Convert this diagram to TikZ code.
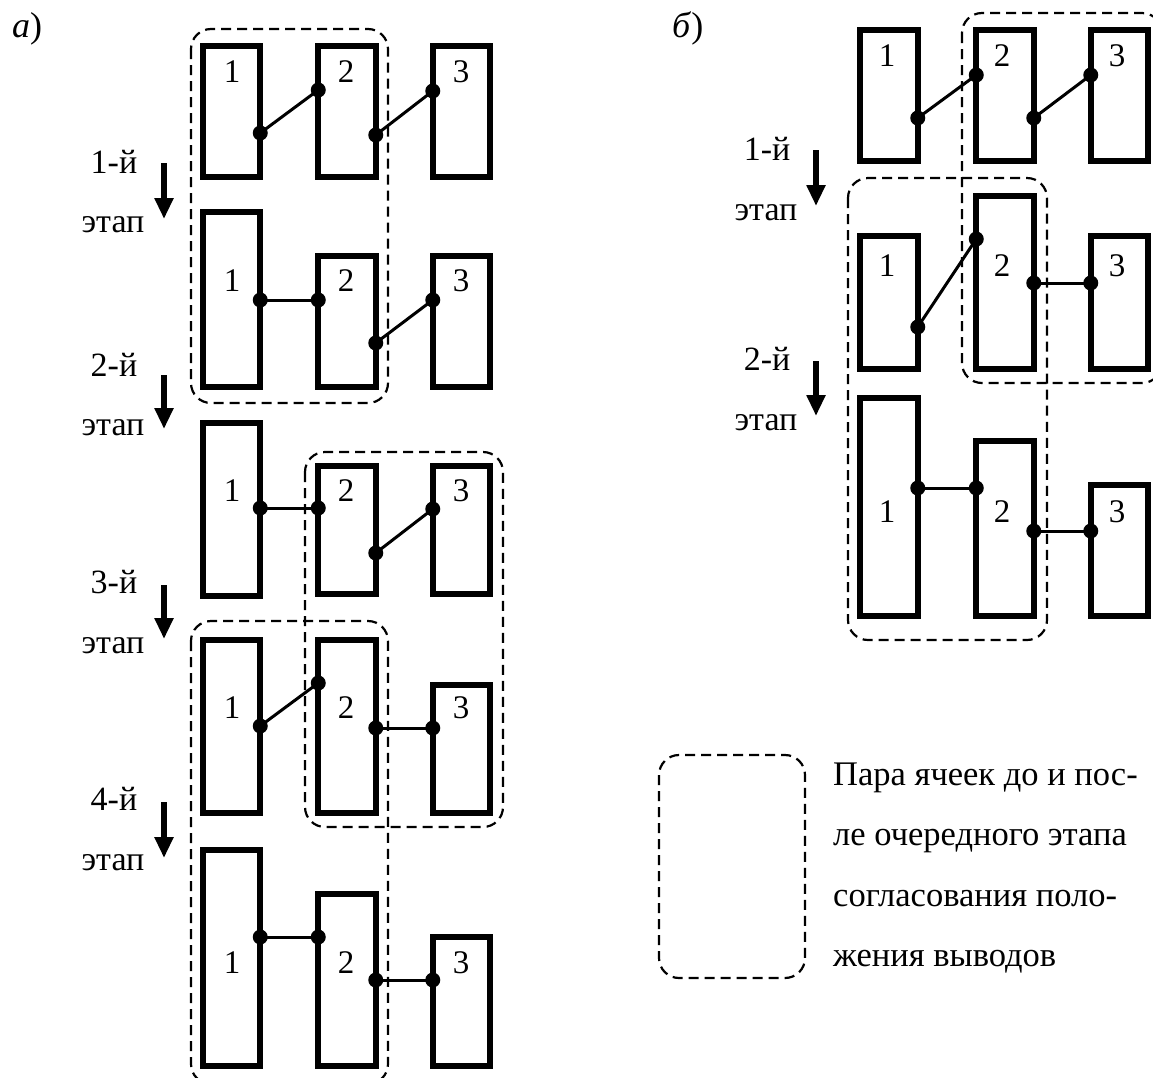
\documentclass[tikz,border=0pt]{standalone}
\usepackage{fontspec}
\setmainfont{Liberation Serif}
\usetikzlibrary{arrows.meta}
\tikzset{
  cell/.style={draw, line width=6pt, rectangle, minimum width=57.5pt, inner sep=0pt, outer sep=0pt},
  num/.style={font=\fontsize{33}{33}\selectfont, inner sep=0pt},
  wire/.style={line width=3pt},
  grp/.style={draw, line width=2.2pt, dash pattern=on 10pt off 6pt, rounded corners=20pt},
  stagetxt/.style={font=\fontsize{34}{34}\selectfont, inner sep=0pt, anchor=base},
  stagearrow/.style={line width=5.5pt, -{Triangle[width=18pt,length=21pt]}},
  legtxt/.style={font=\fontsize{34.5}{34.5}\selectfont, inner sep=0pt, anchor=base west},
  tag/.style={font=\fontsize{36}{36}\selectfont, inner sep=0pt, anchor=base west},
}
\begin{document}
\begin{tikzpicture}[x=1pt,y=-1pt]
\useasboundingbox (0,0) rectangle (1153,1077);
\clip (0,0) rectangle (1153,1077);
% ---------- panel a ----------
\node[tag] (taga) at (12,37) {\textit{а})};
% row 1
\node[cell, minimum height=131] (a11) at (231.5,111.5) {};
\node[cell, minimum height=131] (a12) at (347,111.5) {};
\node[cell, minimum height=131] (a13) at (461.5,111.5) {};
\node[num] (a11n) at (232,72) {1};\node[num] (a12n) at (346,72) {2};\node[num] (a13n) at (461,72) {3};
% row 2
\node[cell, minimum height=175] (a21) at (231.5,299.5) {};
\node[cell, minimum height=131] (a22) at (347,321.5) {};
\node[cell, minimum height=131] (a23) at (461.5,321.5) {};
\node[num] (a21n) at (232,281) {1};\node[num] (a22n) at (346,281) {2};\node[num] (a23n) at (461,281) {3};
% row 3
\node[cell, minimum height=173] (a31) at (231.5,509.5) {};
\node[cell, minimum height=128] (a32) at (347,530) {};
\node[cell, minimum height=128] (a33) at (461.5,530) {};
\node[num] (a31n) at (232,491) {1};\node[num] (a32n) at (346,491) {2};\node[num] (a33n) at (461,491) {3};
% row 4
\node[cell, minimum height=173] (a41) at (231.5,726.5) {};
\node[cell, minimum height=173] (a42) at (347,726.5) {};
\node[cell, minimum height=128] (a43) at (461.5,749) {};
\node[num] (a41n) at (232,708) {1};\node[num] (a42n) at (346,708) {2};\node[num] (a43n) at (461,708) {3};
% row 5
\node[cell, minimum height=216] (a51) at (231.5,958) {};
\node[cell, minimum height=172] (a52) at (347,980) {};
\node[cell, minimum height=129] (a53) at (461.5,1001.5) {};
\node[num] (a51n) at (232,963) {1};\node[num] (a52n) at (346,963) {2};\node[num] (a53n) at (461,963) {3};
% pins a
\coordinate (a1p1) at (a11.east |- 0,133);  \coordinate (a1p2) at (a12.west |- 0,90);
\coordinate (a1p3) at (a12.east |- 0,135);  \coordinate (a1p4) at (a13.west |- 0,91);
\coordinate (a2p1) at (a21.east |- 0,300);  \coordinate (a2p2) at (a22.west |- 0,300);
\coordinate (a2p3) at (a22.east |- 0,343);  \coordinate (a2p4) at (a23.west |- 0,300);
\coordinate (a3p1) at (a31.east |- 0,508);  \coordinate (a3p2) at (a32.west |- 0,508);
\coordinate (a3p3) at (a32.east |- 0,553);  \coordinate (a3p4) at (a33.west |- 0,509);
\coordinate (a4p1) at (a41.east |- 0,726);  \coordinate (a4p2) at (a42.west |- 0,683);
\coordinate (a4p3) at (a42.east |- 0,728);  \coordinate (a4p4) at (a43.west |- 0,728);
\coordinate (a5p1) at (a51.east |- 0,937);  \coordinate (a5p2) at (a52.west |- 0,937);
\coordinate (a5p3) at (a52.east |- 0,980);  \coordinate (a5p4) at (a53.west |- 0,980);
\foreach \r in {1,...,5}{
  \draw[wire] (a\r p1) -- (a\r p2);
  \draw[wire] (a\r p3) -- (a\r p4);
  \foreach \k in {1,...,4}{\fill (a\r p\k) circle (7.5pt);}
}
% groups a
\draw[grp] (191,29) rectangle (388,403);
\draw[grp] (305,452) rectangle (503,827);
\draw[grp] (191,621) rectangle (388,1084);
% stage labels a
\node[stagetxt] (sa1) at (114,173) {1-й};
\node[stagetxt] (ea1) at (113,232) {этап};
\node[stagetxt] (sa2) at (114,376) {2-й};
\node[stagetxt] (ea2) at (113,435) {этап};
\node[stagetxt] (sa3) at (114,593) {3-й};
\node[stagetxt] (ea3) at (113,653) {этап};
\node[stagetxt] (sa4) at (114,810) {4-й};
\node[stagetxt] (ea4) at (113,870) {этап};
\coordinate (aa1s) at (164,163); \coordinate (aa1e) at (164,219);
\coordinate (aa2s) at (164,375); \coordinate (aa2e) at (164,429);
\coordinate (aa3s) at (164,585); \coordinate (aa3e) at (164,639);
\coordinate (aa4s) at (164,802); \coordinate (aa4e) at (164,858);
\foreach \k in {1,...,4}{\draw[stagearrow] (aa\k s) -- (aa\k e);}
% ---------- panel b ----------
\node[tag] (tagb) at (672,37) {\textit{б})};
% row 1
\node[cell, minimum height=131] (b11) at (889,95.5) {};
\node[cell, minimum height=131] (b12) at (1005,95.5) {};
\node[cell, minimum height=131] (b13) at (1119.5,95.5) {};
\node[num] (b11n) at (887,56) {1};\node[num] (b12n) at (1002,56) {2};\node[num] (b13n) at (1117,56) {3};
% row 2
\node[cell, minimum height=133] (b21) at (889,302.5) {};
\node[cell, minimum height=173] (b22) at (1005,282.5) {};
\node[cell, minimum height=133] (b23) at (1119.5,302.5) {};
\node[num] (b21n) at (887,266) {1};\node[num] (b22n) at (1002,266) {2};\node[num] (b23n) at (1117,266) {3};
% row 3
\node[cell, minimum height=218] (b31) at (889,507) {};
\node[cell, minimum height=175] (b32) at (1005,528.5) {};
\node[cell, minimum height=131] (b33) at (1119.5,550.5) {};
\node[num] (b31n) at (887,512) {1};\node[num] (b32n) at (1002,512) {2};\node[num] (b33n) at (1117,512) {3};
% pins b
\coordinate (b1p1) at (b11.east |- 0,118);  \coordinate (b1p2) at (b12.west |- 0,75);
\coordinate (b1p3) at (b12.east |- 0,118);  \coordinate (b1p4) at (b13.west |- 0,75);
\coordinate (b2p1) at (b21.east |- 0,327);  \coordinate (b2p2) at (b22.west |- 0,239);
\coordinate (b2p3) at (b22.east |- 0,283);  \coordinate (b2p4) at (b23.west |- 0,283);
\coordinate (b3p1) at (b31.east |- 0,488);  \coordinate (b3p2) at (b32.west |- 0,488);
\coordinate (b3p3) at (b32.east |- 0,531);  \coordinate (b3p4) at (b33.west |- 0,531);
\foreach \r in {1,...,3}{
  \draw[wire] (b\r p1) -- (b\r p2);
  \draw[wire] (b\r p3) -- (b\r p4);
  \foreach \k in {1,...,4}{\fill (b\r p\k) circle (7.5pt);}
}
% groups b
\draw[grp] (962,13) rectangle (1162,383);
\draw[grp] (848,178) rectangle (1047,640);
% stage labels b
\node[stagetxt] (sb1) at (767,160) {1-й};
\node[stagetxt] (eb1) at (766,220) {этап};
\node[stagetxt] (sb2) at (767,370) {2-й};
\node[stagetxt] (eb2) at (766,430) {этап};
\coordinate (ba1s) at (816,150); \coordinate (ba1e) at (816,206);
\coordinate (ba2s) at (816,361); \coordinate (ba2e) at (816,416);
\draw[stagearrow] (ba1s) -- (ba1e);
\draw[stagearrow] (ba2s) -- (ba2e);
% ---------- legend ----------
\draw[grp] (659,755) rectangle (805,978);
\node[legtxt] (l1) at (833,785) {Пара ячеек до и пос-};
\node[legtxt] (l2) at (833,845) {ле очередного этапа};
\node[legtxt] (l3) at (833,906) {согласования поло-};
\node[legtxt] (l4) at (833,966) {жения выводов};
\end{tikzpicture}
\end{document}
